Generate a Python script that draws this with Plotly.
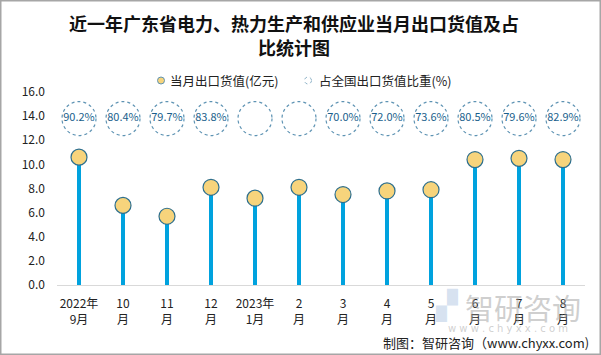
import plotly.graph_objects as go

categories = ["2022年<br>9月", "10<br>月", "11<br>月", "12<br>月", "2023年<br>1月", "2<br>月",
              "3<br>月", "4<br>月", "5<br>月", "6<br>月", "7<br>月", "8<br>月"]
export_value = [10.6, 6.6, 5.7, 8.1, 7.2, 8.1, 7.5, 7.8, 7.9, 10.4, 10.5, 10.4]
share_pct = [90.2, 80.4, 79.7, 83.8, None, None, 70.0, 72.0, 73.6, 80.5, 79.6, 82.9]
y_ticks = [0, 2, 4, 6, 8, 10, 12, 14, 16]
circle_level = 13.8
legend_names = ["当月出口货值(亿元)", "占全国出口货值比重(%)"]
title_lines = ["近一年广东省电力、热力生产和供应业当月出口货值及占", "比统计图"]

W, H = 601, 355
L, R, T, B = 57, 16, 92, 70
pw, ph = W - L - R, H - T - B
y_max = 16.0

FONT = "Noto Sans CJK SC"


def px_x(px):
    return (px - L) / pw


def px_y(py):
    return (T + ph - py) / ph


fig = go.Figure()

# stems
fig.add_trace(go.Bar(
    x=categories, y=export_value, width=0.09,
    marker=dict(color="#00A2DE", line=dict(width=0)),
    showlegend=False, hoverinfo="skip"))

# heads
fig.add_trace(go.Scatter(
    x=categories, y=export_value, mode="markers",
    name=legend_names[0], showlegend=False,
    marker=dict(size=16, color="#F7D47C", line=dict(color="#2E6F8E", width=1.2)),
    cliponaxis=False))

# percentage labels
fig.add_trace(go.Scatter(
    x=categories, y=[circle_level] * len(categories), mode="text",
    name=legend_names[1],
    text=[f"{v:.1f}%" if v is not None else "" for v in share_pct],
    textfont=dict(family=FONT, size=11, color="#1A5F8C"),
    showlegend=False, hoverinfo="skip"))

shapes = []
dx = 17 / (pw / len(categories))
dy = 17 / (ph / y_max)
for i in range(len(categories)):
    shapes.append(dict(type="circle", xref="x", yref="y",
                       x0=i - dx, x1=i + dx, y0=circle_level - dy, y1=circle_level + dy,
                       line=dict(color="#5E93B3", width=1.2, dash="dot"), layer="below"))

# legend icons
shapes.append(dict(type="circle", xref="paper", yref="paper",
                   x0=px_x(157.5), x1=px_x(164.5), y0=px_y(84), y1=px_y(77),
                   fillcolor="#F7D47C", line=dict(color="#5E93B3", width=1)))
shapes.append(dict(type="circle", xref="paper", yref="paper",
                   x0=px_x(304.5), x1=px_x(311.5), y0=px_y(84), y1=px_y(77),
                   line=dict(color="#8FB3C8", width=1, dash="dot")))

# outer frame
shapes.append(dict(type="rect", xref="paper", yref="paper",
                   x0=px_x(0.75), x1=px_x(W - 0.75), y0=px_y(H - 0.75), y1=px_y(0.75),
                   line=dict(color="#A6A6A6", width=1.5)))

annotations = [
    dict(text=title_lines[0], xref="paper", yref="paper", x=px_x(294), y=px_y(23),
         xanchor="center", yanchor="middle", showarrow=False,
         font=dict(family=FONT, size=18, color="#111111", weight="bold")),
    dict(text=title_lines[1], xref="paper", yref="paper", x=px_x(294), y=px_y(47),
         xanchor="center", yanchor="middle", showarrow=False,
         font=dict(family=FONT, size=18, color="#111111", weight="bold")),
    dict(text=legend_names[0], xref="paper", yref="paper", x=px_x(168), y=px_y(80.5),
         xanchor="left", yanchor="middle", showarrow=False,
         font=dict(family=FONT, size=12.5, color="#222222")),
    dict(text=legend_names[1], xref="paper", yref="paper", x=px_x(317), y=px_y(80.5),
         xanchor="left", yanchor="middle", showarrow=False,
         font=dict(family=FONT, size=12.5, color="#222222")),
    dict(text="智研咨询", xref="paper", yref="paper", x=px_x(523), y=px_y(307),
         xanchor="center", yanchor="middle", showarrow=False,
         font=dict(family=FONT, size=29, color="rgba(160,160,160,0.5)")),
    dict(text="w w w . c h y x x . c o m", xref="paper", yref="paper",
         x=px_x(508), y=px_y(328), xanchor="center", yanchor="middle",
         showarrow=False, font=dict(family="DejaVu Sans", size=10, color="rgba(160,160,160,0.5)")),
    dict(text="▞", xref="paper", yref="paper", x=px_x(446), y=px_y(305),
         xanchor="center", yanchor="middle", showarrow=False,
         font=dict(family="DejaVu Sans", size=28, color="rgba(150,180,215,0.4)")),
    dict(text="制图：智研咨询（www.chyxx.com)", xref="paper", yref="paper",
         x=px_x(591), y=px_y(342), xanchor="right", yanchor="middle",
         showarrow=False, font=dict(family=FONT, size=13, color="#222222")),
]

fig.update_layout(
    width=W, height=H,
    margin=dict(l=L, r=R, t=T, b=B, pad=0, autoexpand=False),
    paper_bgcolor="white", plot_bgcolor="white",
    font=dict(family=FONT, size=12, color="#222222"),
    showlegend=False,
    xaxis=dict(type="category", showgrid=False, showline=True, linecolor="#D9D9D9",
               linewidth=1, ticks="", tickfont=dict(size=12, color="#222222"),
               ticklabelstandoff=8,
               range=[-0.5, len(categories) - 0.5], fixedrange=True, automargin=False),
    yaxis=dict(range=[0, y_max], tickvals=y_ticks, tickformat=".1f", showgrid=False,
               zeroline=False, showline=False, ticks="", ticklabelstandoff=11,
               tickfont=dict(size=12, color="#222222"), fixedrange=True, automargin=False),
    shapes=shapes, annotations=annotations, bargap=0,
)

fig.write_html("out.html", config={"displayModeBar": False},
               post_script="document.body.style.margin='0px';document.body.style.overflow='hidden';")
